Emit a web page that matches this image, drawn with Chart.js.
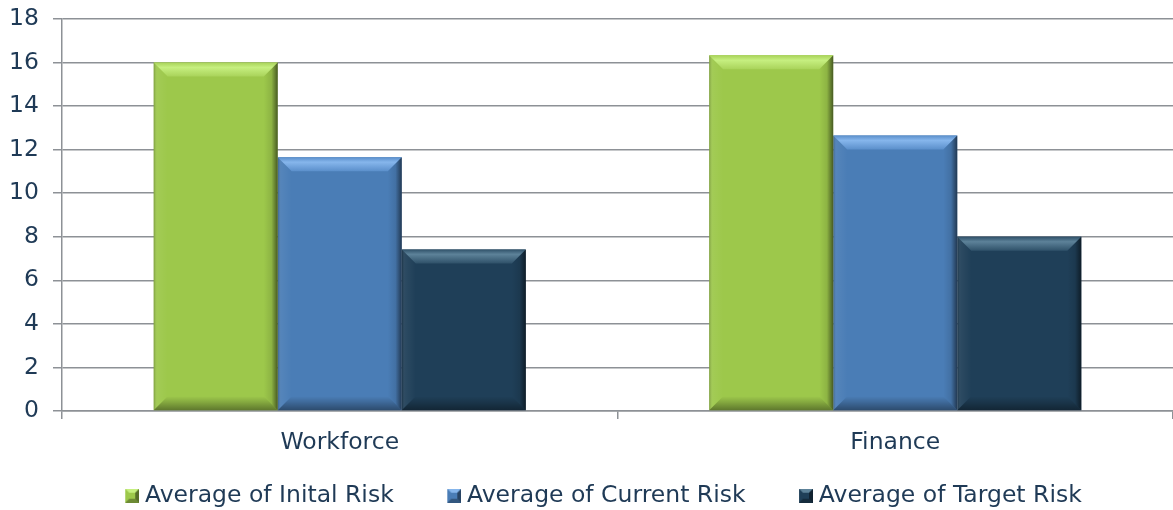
<!DOCTYPE html>
<html>
<head>
<meta charset="utf-8">
<script src="https://cdn.jsdelivr.net/npm/chart.js@4"></script>
<style>
  html, body { margin: 0; padding: 0; background: #fff; }
  #wrap { width: 1173px; height: 510px; }
</style>
</head>
<body>
<div id="wrap"><canvas id="myChart"></canvas></div>
<script>
// datos del grafico
const categories = ["Workforce", "Finance"];
const initialRisk = [16, 16.33];
const currentRisk = [11.65, 12.65];
const targetRisk = [7.42, 8];
const seriesNames = ["Average of Inital Risk", "Average of Current Risk", "Average of Target Risk"];
const yTicks = [0, 2, 4, 6, 8, 10, 12, 14, 16, 18];

const textColor = '#1f3a56';
const gridColor = '#8d9196';

// colores: base, brillo arriba, borde
const palette = [
  { base: '#9dc84b', hi1: '#c6ef80', hi2: '#a9d35a' },
  { base: '#4a7db6', hi1: '#86b6ec', hi2: '#5b8fcb' },
  { base: '#1f3f58', hi1: '#5d8299', hi2: '#2f5169' }
];

// cuadrado con bisel para la leyenda (lado izquierdo transparente = espacio entre items)
function legendIcon(p) {
  const c = document.createElement('canvas');
  c.width = 54; c.height = 14;
  const g = c.getContext('2d');
  g.translate(40, 0);
  g.fillStyle = p.base; g.fillRect(0, 0, 14, 14);
  g.fillStyle = p.hi1;
  g.beginPath(); g.moveTo(0, 0); g.lineTo(14, 0); g.lineTo(10, 4); g.lineTo(4, 4); g.closePath(); g.fill();
  g.fillStyle = 'rgba(0,0,0,0.45)';
  g.beginPath(); g.moveTo(14, 0); g.lineTo(14, 14); g.lineTo(10, 10); g.lineTo(10, 4); g.closePath(); g.fill();
  g.fillStyle = 'rgba(0,0,0,0.3)';
  g.beginPath(); g.moveTo(0, 14); g.lineTo(14, 14); g.lineTo(10, 10); g.lineTo(4, 10); g.closePath(); g.fill();
  return c;
}
const icons = palette.map(legendIcon);

// efecto de bisel sobre cada barra
const bevelPlugin = {
  id: 'bevel',
  afterDatasetsDraw(chart) {
    const ctx = chart.ctx;
    chart.data.datasets.forEach((ds, i) => {
      const meta = chart.getDatasetMeta(i);
      const p = palette[i];
      meta.data.forEach(bar => {
        const { x, y, base, width } = bar.getProps(['x', 'y', 'base', 'width'], true);
        const l = x - width / 2, r = x + width / 2, t = y, b = base;
        const bv = 14;
        ctx.save();
        // arriba
        let gr = ctx.createLinearGradient(0, t, 0, t + bv);
        gr.addColorStop(0, p.hi2);
        gr.addColorStop(0.35, p.hi1);
        gr.addColorStop(1, p.hi2);
        ctx.fillStyle = gr;
        ctx.beginPath(); ctx.moveTo(l, t); ctx.lineTo(r, t); ctx.lineTo(r - bv, t + bv); ctx.lineTo(l + bv, t + bv); ctx.closePath(); ctx.fill();
        // derecha
        gr = ctx.createLinearGradient(r - bv, 0, r, 0);
        gr.addColorStop(0, 'rgba(0,0,0,0)');
        gr.addColorStop(0.55, 'rgba(0,0,0,0.1)');
        gr.addColorStop(1, 'rgba(0,0,0,0.55)');
        ctx.fillStyle = gr;
        ctx.beginPath(); ctx.moveTo(r, t); ctx.lineTo(r, b); ctx.lineTo(r - bv, b - bv); ctx.lineTo(r - bv, t + bv); ctx.closePath(); ctx.fill();
        // izquierda
        gr = ctx.createLinearGradient(l, 0, l + bv, 0);
        gr.addColorStop(0, 'rgba(0,0,0,0.22)');
        gr.addColorStop(0.25, 'rgba(255,255,255,0.06)');
        gr.addColorStop(1, 'rgba(255,255,255,0)');
        ctx.fillStyle = gr;
        ctx.beginPath(); ctx.moveTo(l, t); ctx.lineTo(l + bv, t + bv); ctx.lineTo(l + bv, b - bv); ctx.lineTo(l, b); ctx.closePath(); ctx.fill();
        // abajo
        gr = ctx.createLinearGradient(0, b - bv, 0, b);
        gr.addColorStop(0, 'rgba(0,0,0,0)');
        gr.addColorStop(0.4, 'rgba(0,0,0,0.15)');
        gr.addColorStop(1, 'rgba(0,0,0,0.4)');
        ctx.fillStyle = gr;
        ctx.beginPath(); ctx.moveTo(l, b); ctx.lineTo(r, b); ctx.lineTo(r - bv, b - bv); ctx.lineTo(l + bv, b - bv); ctx.closePath(); ctx.fill();
        ctx.restore();
      });
    });
  }
};

// ajusta la altura de la leyenda
const legendFit = {
  id: 'legendFit',
  beforeInit(chart) {
    const fit = chart.legend.fit;
    chart.legend.fit = function () {
      fit.call(this);
      this.height -= 7.5;
    };
  }
};

const font = { family: '"DejaVu Sans", sans-serif', size: 23.5 };

let ctx = document.getElementById('myChart');
let myChart = new Chart(ctx, {
  type: 'bar',
  data: {
    labels: categories,
    datasets: [initialRisk, currentRisk, targetRisk].map((d, i) => ({
      label: seriesNames[i],
      data: d,
      backgroundColor: palette[i].base,
      borderWidth: 0,
      barPercentage: 1,
      categoryPercentage: 0.67
    }))
  },
  options: {
    responsive: true,
    maintainAspectRatio: false,
    animation: false,
    layout: { padding: { left: 0, right: 0, top: 0, bottom: 0 } },
    plugins: {
      tooltip: { enabled: false },
      legend: {
        position: 'bottom',
        labels: {
          color: textColor,
          font: font,
          usePointStyle: true,
          pointStyleWidth: 42,
          padding: 19.5,
          generateLabels(chart) {
            return chart.data.datasets.map((ds, i) => ({
              text: ds.label,
              fontColor: textColor,
              pointStyle: icons[i],
              datasetIndex: i,
              lineWidth: 0,
              strokeStyle: 'transparent',
              fillStyle: palette[i].base
            }));
          }
        }
      }
    },
    scales: {
      x: {
        grid: { drawOnChartArea: false, color: gridColor, tickLength: 8, lineWidth: 1.5 },
        border: { color: gridColor, width: 1.5 },
        ticks: { color: textColor, font: font, padding: 10 },
        afterFit(axis) { axis.height = 53.5; }
      },
      y: {
        min: 0,
        max: 18,
        afterBuildTicks(axis) { axis.ticks = yTicks.map(v => ({ value: v })); },
        grid: { color: gridColor, lineWidth: 1.5, tickLength: 9 },
        border: { color: gridColor, width: 1.5 },
        ticks: { color: textColor, font: font, padding: 14 },
        afterFit(axis) { axis.width = 62; axis.paddingTop = 19; }
      }
    }
  },
  plugins: [bevelPlugin, legendFit]
});
</script>
</body>
</html>
